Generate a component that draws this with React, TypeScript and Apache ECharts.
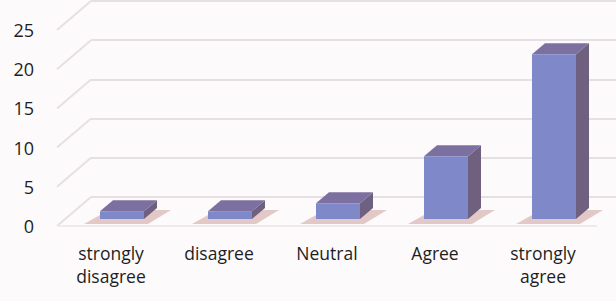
import React, { useEffect, useRef } from "react";
import * as echarts from "echarts";

const categories = ["strongly\ndisagree", "disagree", "Neutral", "Agree", "strongly\nagree"];
const values = [1, 1, 2, 8, 21];
const yTicks = [0, 5, 10, 15, 20, 25];

const DX = 34;
const DY = -29;

export default function App() {
  const ref = useRef<HTMLDivElement>(null);
  useEffect(() => {
    if (!ref.current) return;
    const chart = echarts.init(ref.current, null, { renderer: "svg" });
    const font = "'Open Sans', 'Noto Sans', sans-serif";
    chart.setOption({
      animation: false,
      backgroundColor: "#fdfafc",
      grid: [
        { left: 57, right: 19, top: 30, bottom: 75 },
        { left: 57 + DX, right: -20, top: 30 + DY, bottom: 75 - DY },
      ],
      xAxis: [
        {
          type: "category",
          gridIndex: 0,
          data: categories,
          axisLine: { show: false },
          axisTick: { show: false },
          axisLabel: {
            margin: 15,
            fontFamily: font,
            fontSize: 17.5,
            lineHeight: 23,
            color: "#1e1e1e",
            interval: 0,
          },
        },
        {
          type: "category",
          gridIndex: 1,
          data: categories,
          show: false,
        },
      ],
      yAxis: [
        {
          type: "value",
          gridIndex: 0,
          min: 0,
          max: 25,
          interval: 5,
          axisLine: { show: false },
          axisTick: { show: false },
          splitLine: { show: false },
          axisLabel: {
            margin: 23,
            fontFamily: font,
            fontSize: 18,
            color: "#1e1e1e",
          },
        },
        {
          type: "value",
          gridIndex: 1,
          min: 0,
          max: 25,
          interval: 5,
          axisLine: { show: false },
          axisTick: { show: false },
          axisLabel: { show: false },
          splitLine: { show: true, lineStyle: { color: "#e6e0e4", width: 2 } },
        },
      ],
      series: [
        {
          type: "custom",
          xAxisIndex: 0,
          yAxisIndex: 0,
          data: yTicks.map((t) => [0, t]),
          silent: true,
          z: 1,
          renderItem: (params: any, api: any) => {
            const cs = params.coordSys;
            const p = api.coord([0, api.value(1)]);
            const x = cs.x;
            const children: any[] = [
              {
                type: "line",
                shape: { x1: x, y1: p[1], x2: x + DX, y2: p[1] + DY },
                style: { stroke: "#e6e0e4", lineWidth: 2 },
              },
            ];
            if (api.value(1) === 0) {
              children.push({
                type: "line",
                shape: { x1: x, y1: p[1], x2: cs.x + cs.width, y2: p[1] },
                style: { stroke: "#efe9ed", lineWidth: 2 },
              });
            }
            return { type: "group", children };
          },
        },
        {
          type: "custom",
          xAxisIndex: 0,
          yAxisIndex: 0,
          data: values.map((v, i) => [i, v]),
          silent: true,
          z: 5,
          renderItem: (params: any, api: any) => {
            const base = api.coord([api.value(0), 0]);
            const top = api.coord([api.value(0), api.value(1)]);
            const cx = base[0] + 11;
            const yb = base[1] - 7;
            const yt = top[1] - 7;
            const x0 = cx - 22;
            const x1 = cx + 22;
            const ddx = 13;
            const ddy = -11;
            return {
              type: "group",
              children: [
                {
                  type: "polygon",
                  shape: {
                    points: [
                      [x0 - 16, yb + 5],
                      [x1 + 4, yb + 5],
                      [x1 + ddx + 14, yb + ddy + 2],
                      [x0 + ddx - 4, yb + ddy + 2],
                    ],
                  },
                  style: { fill: "rgba(165,90,80,0.3)" },
                },
                {
                  type: "polygon",
                  shape: {
                    points: [
                      [x1, yb],
                      [x1 + ddx, yb + ddy],
                      [x1 + ddx, yt + ddy],
                      [x1, yt],
                    ],
                  },
                  style: { fill: "#6f6080" },
                },
                {
                  type: "polygon",
                  shape: {
                    points: [
                      [x0, yt],
                      [x1, yt],
                      [x1 + ddx, yt + ddy],
                      [x0 + ddx, yt + ddy],
                    ],
                  },
                  style: { fill: "#7c70a0" },
                },
                {
                  type: "rect",
                  shape: { x: x0, y: yt, width: x1 - x0, height: yb - yt },
                  style: { fill: "#7f88c9" },
                },
              ],
            };
          },
        },
      ],
    });
    return () => chart.dispose();
  }, []);
  return (
    <div
      ref={ref}
      style={{ position: "fixed", left: 0, top: 0, width: 616, height: 301 }}
    />
  );
}
